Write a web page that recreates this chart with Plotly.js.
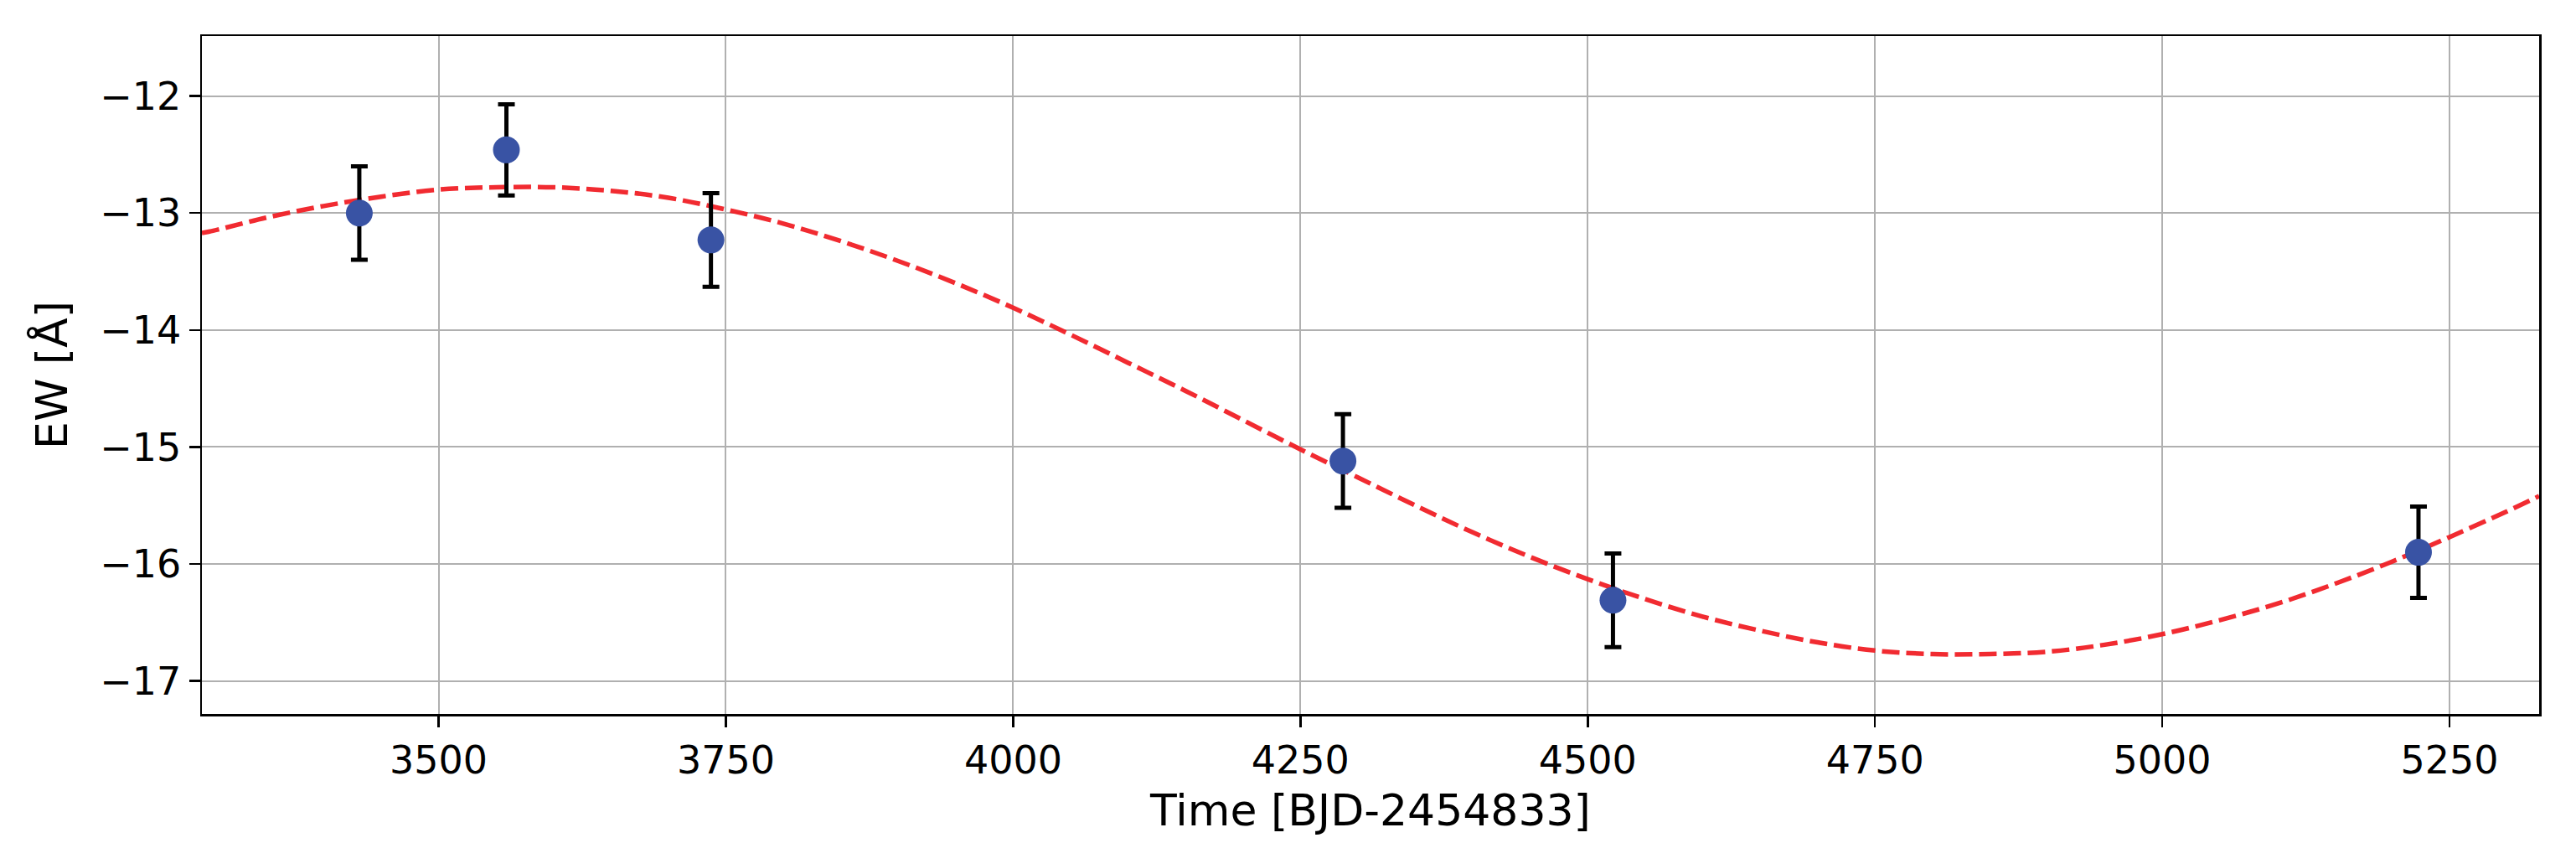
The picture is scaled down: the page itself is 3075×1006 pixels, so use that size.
<!DOCTYPE html>
<html>
<head>
<meta charset="utf-8">
<script src="https://cdn.plot.ly/plotly-3.0.1.min.js"></script>
<style>
  html, body { margin: 0; padding: 0; background: #ffffff; }
  #ew-plot { width: 3075px; height: 1006px; }
</style>
</head>
<body>
<div id="ew-plot"></div>
<script>
// observed equivalent widths
const obsTime = [3431, 3559, 3737, 4287, 4522, 5223];
const obsEW = [-13.00, -12.46, -13.23, -15.12, -16.31, -15.90];
const obsErr = [0.40, 0.39, 0.40, 0.40, 0.40, 0.39];

// fitted model curve
const fitTime = [
  3294, 3300, 3350, 3400, 3450, 3500, 3550, 3600, 3650, 3700, 3750, 3800,
  3850, 3900, 3950, 4000, 4050, 4100, 4150, 4200, 4250, 4300, 4350, 4400,
  4450, 4500, 4550, 4600, 4650, 4700, 4750, 4800, 4850, 4900, 4950, 5000,
  5050, 5100, 5150, 5200, 5250, 5300, 5328
];
const fitEW = [
  -13.17, -13.16, -13.04, -12.94, -12.86, -12.80, -12.78, -12.78, -12.81, -12.87, -12.97, -13.09,
  -13.24, -13.41, -13.60, -13.81, -14.04, -14.28, -14.52, -14.77, -15.02, -15.26, -15.50, -15.73,
  -15.94, -16.13, -16.30, -16.45, -16.57, -16.67, -16.74, -16.77, -16.77, -16.75, -16.69, -16.60,
  -16.48, -16.34, -16.17, -15.98, -15.77, -15.55, -15.42
];

const xTicks = [3500, 3750, 4000, 4250, 4500, 4750, 5000, 5250];
const yTicks = [-17, -16, -15, -14, -13, -12];

const fitTrace = {
  type: "scatter",
  mode: "lines",
  x: fitTime,
  y: fitEW,
  line: { color: "rgba(240, 32, 38, 0.95)", width: 5.5, dash: "21px,8px", shape: "spline" },
  hoverinfo: "skip",
  showlegend: false
};

const obsTrace = {
  type: "scatter",
  mode: "markers",
  x: obsTime,
  y: obsEW,
  error_y: {
    type: "data",
    array: obsErr,
    visible: true,
    color: "#000000",
    thickness: 5,
    width: 10
  },
  marker: { color: "#3953a4", size: 32 },
  showlegend: false
};

const axisStyle = {
  showline: true,
  mirror: true,
  linecolor: "#000000",
  linewidth: 2.5,
  showgrid: true,
  gridcolor: "#b0b0b0",
  gridwidth: 2,
  zeroline: false,
  ticks: "outside",
  ticklen: 13,
  tickwidth: 2.5,
  tickcolor: "#000000",
  tickfont: { size: 46, color: "#000000" }
};

const layout = {
  width: 3075,
  height: 1006,
  margin: { l: 241, r: 44, t: 43, b: 154 },
  paper_bgcolor: "#ffffff",
  plot_bgcolor: "#ffffff",
  font: { family: "DejaVu Sans, sans-serif", color: "#000000" },
  xaxis: {
    ...axisStyle,
    range: [3294, 5328],
    tickmode: "array",
    tickvals: xTicks,
    ticktext: xTicks.map(String),
    title: { text: "Time [BJD-2454833]", font: { size: 52 }, standoff: 16 }
  },
  yaxis: {
    ...axisStyle,
    range: [-17.282, -11.487],
    tickmode: "array",
    tickvals: yTicks,
    ticktext: yTicks.map((v) => "\u2212" + Math.abs(v)),
    title: { text: "EW [Å]", font: { size: 52 }, standoff: 22 }
  }
};

Plotly.newPlot("ew-plot", [fitTrace, obsTrace], layout, { displayModeBar: false, staticPlot: true });
</script>
</body>
</html>
